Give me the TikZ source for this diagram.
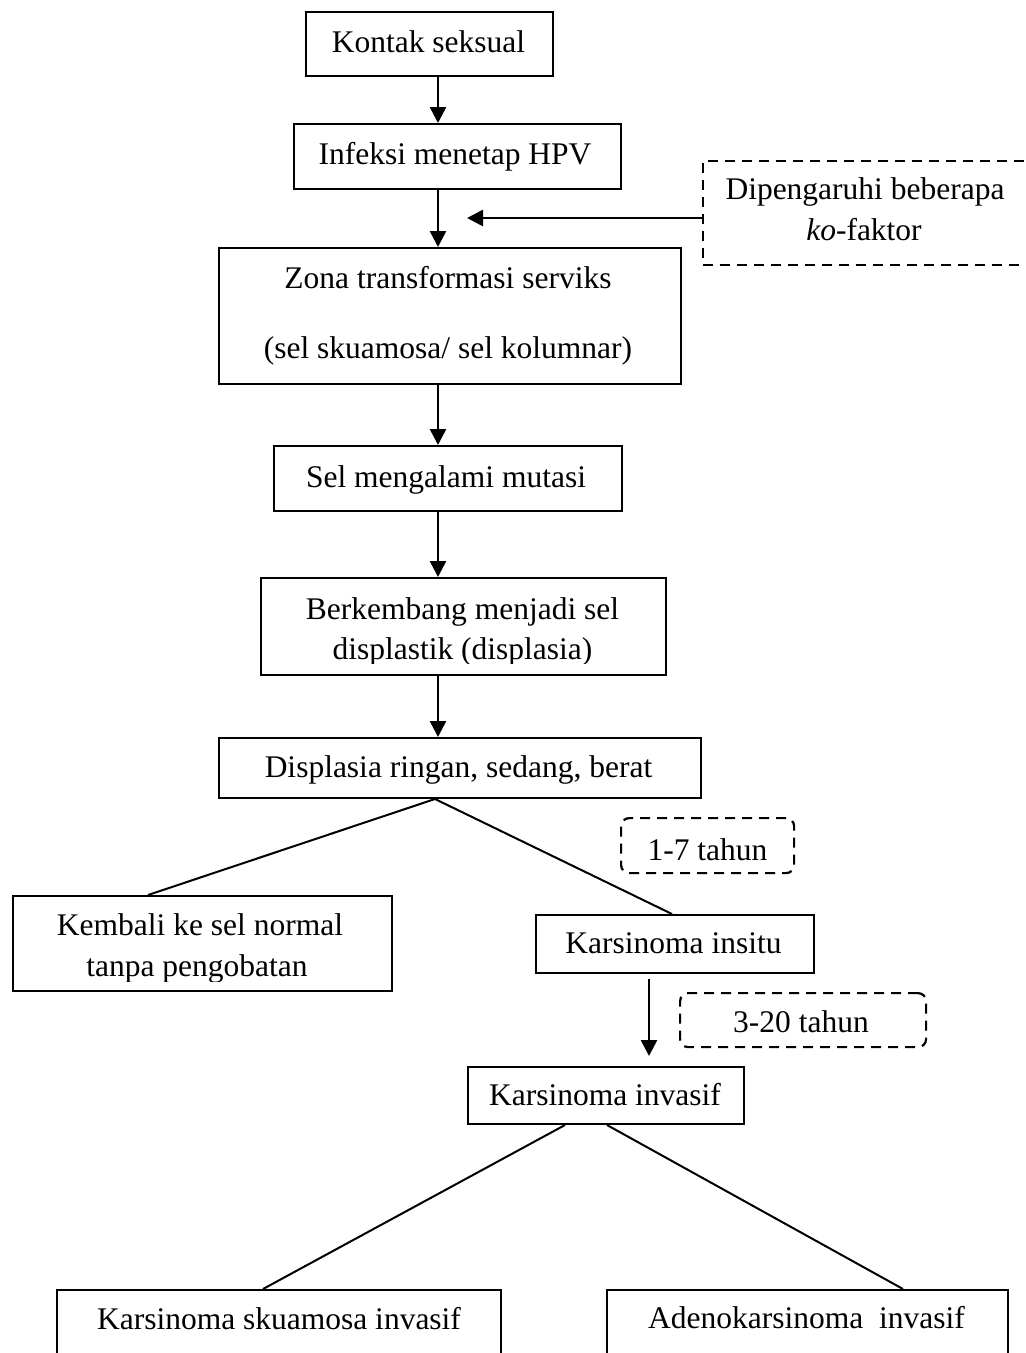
\documentclass[tikz,border=0pt]{standalone}
\usepackage{fontspec}
\setmainfont{Liberation Serif}
\usetikzlibrary{arrows.meta}
\begin{document}
\begin{tikzpicture}[x=1pt,y=-1pt,
  box/.style={draw, line width=2pt, inner sep=0pt, anchor=north west},
  dbox/.style={draw, line width=2.2pt, dash pattern=on 10pt off 7pt, inner sep=0pt, anchor=north west},
  txt/.style={font=\fontsize{31.5}{37.8}\selectfont, inner sep=0pt, anchor=base},
  arr/.style={-{Triangle[length=16pt,width=16pt]}, line width=2.6pt},
  ln/.style={line width=2pt}]
\clip (0,0) rectangle (1026,1353);
\fill[white] (0,0) rectangle (1026,1353);
% boxes
\node[box, minimum width=247pt, minimum height=64pt] (kontak) at (305,11) {};
\node[box, minimum width=327pt, minimum height=65pt] (infeksi) at (293,123) {};
\node[box, minimum width=462pt, minimum height=136pt] (zona) at (218,247) {};
\node[box, minimum width=348pt, minimum height=65pt] (sel) at (273,445) {};
\node[box, minimum width=405pt, minimum height=97pt] (berk) at (260,577) {};
\node[box, minimum width=482pt, minimum height=60pt] (disp) at (218,737) {};
\node[box, minimum width=379pt, minimum height=95pt] (kembali) at (12,895) {};
\node[box, minimum width=278pt, minimum height=58pt] (insitu) at (535,914) {};
\node[box, minimum width=276pt, minimum height=57pt] (invasif) at (467,1066) {};
\node[box, minimum width=444pt, minimum height=120pt] (skuam) at (56,1289) {};
\node[box, minimum width=401pt, minimum height=120pt] (adeno) at (606,1289) {};
\node[dbox, minimum width=338pt, minimum height=104pt] (ko) at (702,160) {};
\node[dbox, rounded corners=8pt, minimum width=173pt, minimum height=55pt] (t17) at (620,817) {};
\node[dbox, rounded corners=8pt, minimum width=246pt, minimum height=54pt] (t320) at (679,992) {};
% texts
\node[txt] (kontakT) at (428.5,52) {Kontak seksual};
\node[txt] (infeksiT) at (455,164) {Infeksi menetap HPV};
\node[txt] (zonaT1) at (448,288) {Zona transformasi serviks};
\node[txt] (zonaT2) at (448,358) {(sel skuamosa/ sel kolumnar)};
\node[txt] (selT) at (446,487) {Sel mengalami mutasi};
\begin{scope}
\clip (0,0) rectangle (1026,663);
\node[txt] (berkT1) at (462.5,619) {Berkembang menjadi sel};
\node[txt] (berkT2) at (462.5,659) {displastik (displasia)};
\end{scope}
\node[txt] (dispT) at (458.5,777) {Displasia ringan, sedang, berat};
\begin{scope}
\clip (0,0) rectangle (1026,981);
\node[txt] (kembaliT1) at (200,935) {Kembali ke sel normal};
\node[txt] (kembaliT2) at (197,976) {tanpa pengobatan};
\end{scope}
\node[txt] (insituT) at (673.5,953) {Karsinoma insitu};
\node[txt] (invasifT) at (605,1105) {Karsinoma invasif};
\node[txt] (skuamT) at (279,1329) {Karsinoma skuamosa invasif};
\node[txt] (adenoT) at (806.5,1328) {Adenokarsinoma\ \ invasif};
\node[txt] (koT1) at (865,199) {Dipengaruhi beberapa};
\node[txt] (koT2) at (864,240) {\textit{ko}-faktor};
\node[txt] (t17T) at (707.5,860) {1-7 tahun};
\node[txt] (t320T) at (801,1032) {3-20 tahun};
% connectors
\coordinate (ax) at (438,0);
\draw[arr] (kontak.south -| ax) -- (infeksi.north -| ax);
\draw[arr] (infeksi.south -| ax) -- (zona.north -| ax);
\draw[arr] (zona.south -| ax) -- (sel.north -| ax);
\draw[arr] (sel.south -| ax) -- (berk.north -| ax);
\draw[arr] (berk.south -| ax) -- (disp.north -| ax);
\coordinate (koend) at (467,218);
\draw[arr] (ko.west |- koend) -- (koend);
\coordinate (apex) at (435,0);
\coordinate (kL) at (148,0);
\draw[ln] (disp.south -| apex) -- (kembali.north -| kL);
\draw[ln] (disp.south -| apex) -- (insitu.north -| {672,0});
\coordinate (ix) at (649,0);
\draw[arr, shorten <=5pt, shorten >=10pt] (insitu.south -| ix) -- (invasif.north -| ix);
\coordinate (iL) at (565,0);
\coordinate (iR) at (607,0);
\coordinate (sL) at (263,0);
\coordinate (aR) at (903,0);
\draw[ln] (invasif.south -| iL) -- (skuam.north -| sL);
\draw[ln] (invasif.south -| iR) -- (adeno.north -| aR);
\end{tikzpicture}
\end{document}
